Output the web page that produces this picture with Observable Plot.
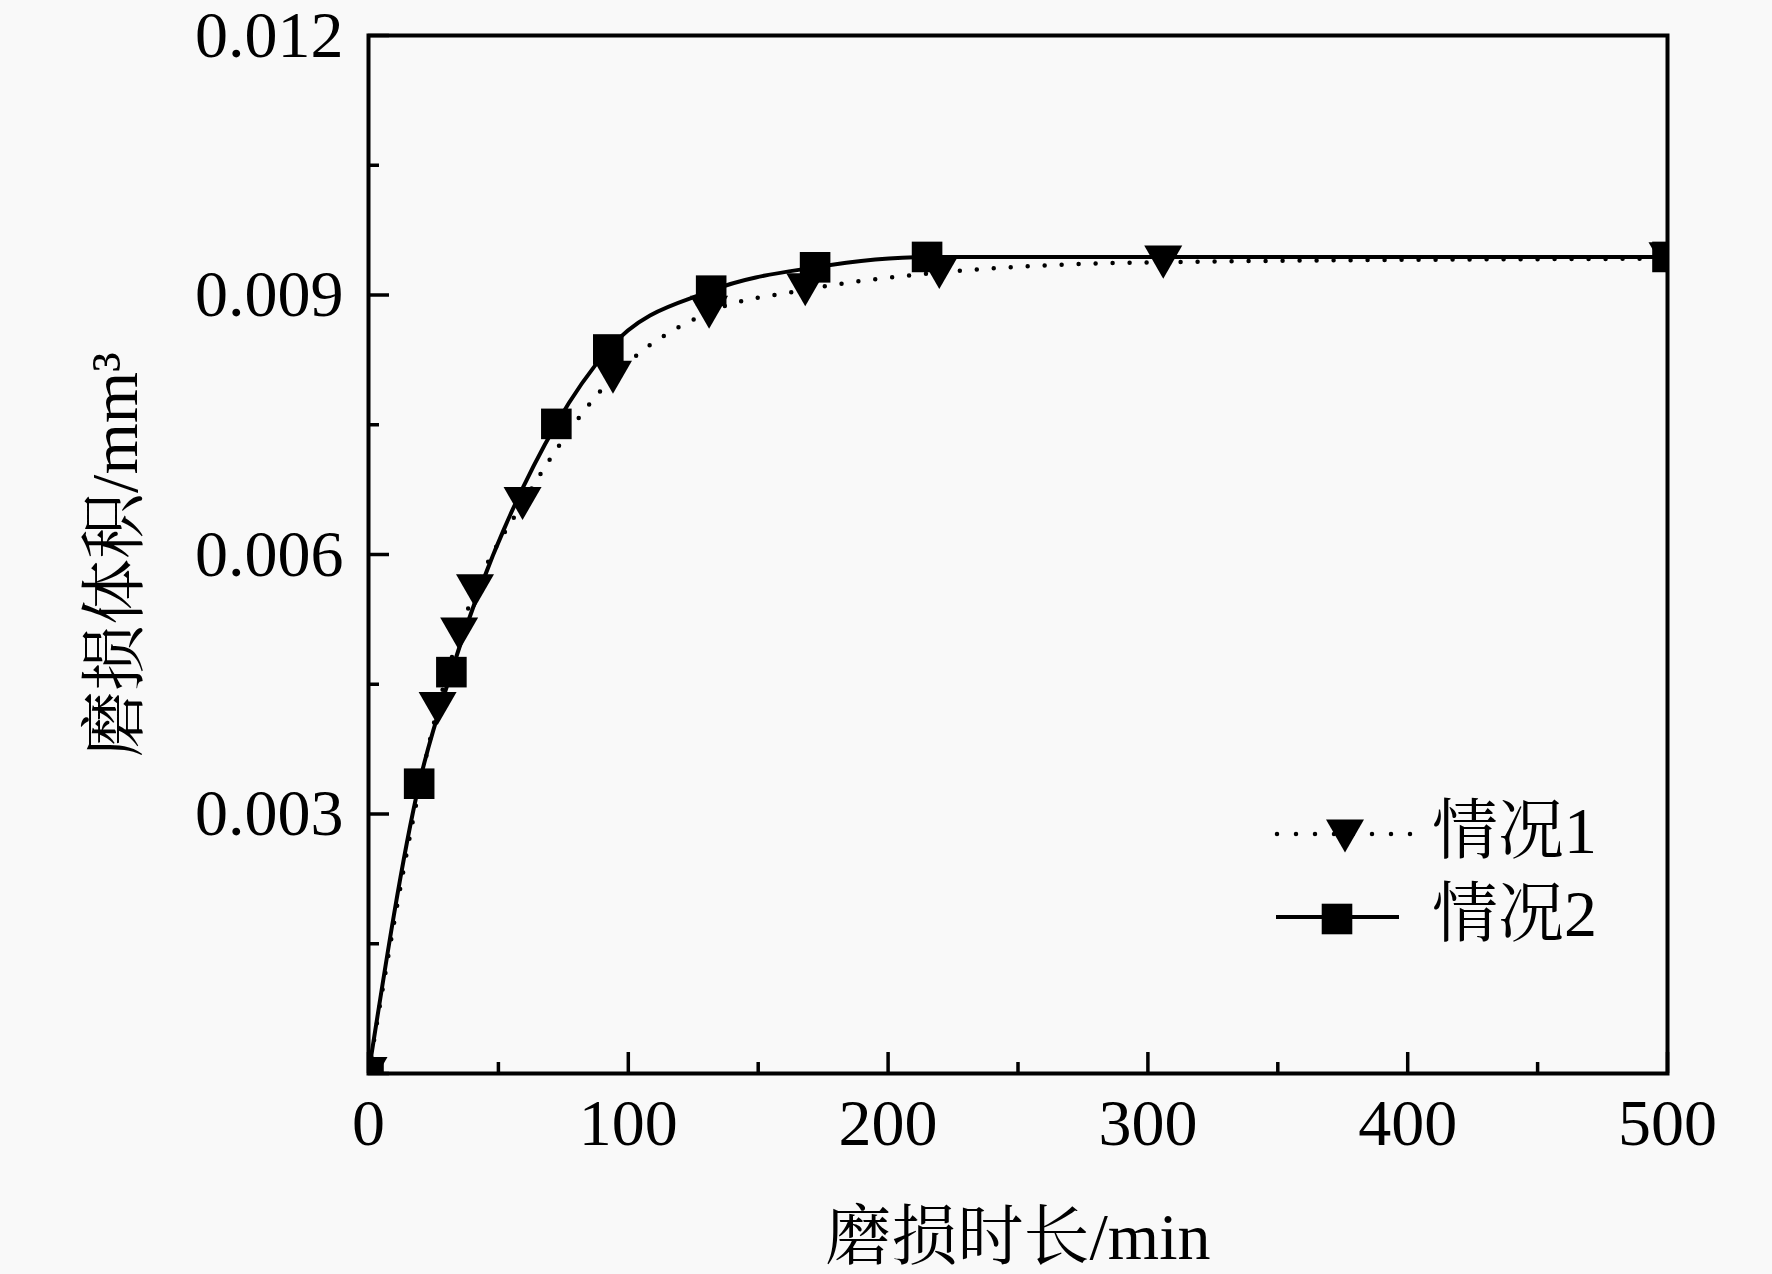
<!DOCTYPE html>
<html>
<head>
<meta charset="utf-8">
<script src="https://cdn.jsdelivr.net/npm/d3@7"></script>
<script src="https://cdn.jsdelivr.net/npm/@observablehq/plot@0.6"></script>
<style>
  html, body { margin: 0; padding: 0; background: #f9f9f9; }
  #chart { width: 1772px; height: 1274px; position: relative; }
</style>
</head>
<body>
<div id="chart"></div>
<script>
// ---- data ----
const case1X = [0, 26.6, 34.9, 41.0, 59.3, 94.1, 131.1, 168.1, 219.7, 305.9, 500];
const case1Y = [0, 0.00422, 0.00508, 0.00558, 0.00659, 0.00805, 0.00880, 0.00906, 0.00926, 0.00938, 0.00942];
const case2X = [0, 19.5, 31.9, 72.3, 92.3, 131.9, 171.9, 215, 500];
const case2Y = [0, 0.00335, 0.00464, 0.00751, 0.00837, 0.00905, 0.00932, 0.00944, 0.00944];
const seriesNames = ["情况1", "情况2"];
const xMajorTicks = [0, 100, 200, 300, 400, 500];
const xMinorTicks = [50, 150, 250, 350, 450];
const yMajorTicks = [0, 0.003, 0.006, 0.009, 0.012];
const yLabelTicks = [0.003, 0.006, 0.009, 0.012];
const yMinorTicks = [0.0015, 0.0045, 0.0075, 0.0105];
const xTitle = "磨损时长/min";
const yTitle = "磨损体积/mm³";

const case1 = case1X.map((x, i) => ({x, y: case1Y[i]}));
const case2 = case2X.map((x, i) => ({x, y: case2Y[i]}));

const FONT = "'Liberation Serif', 'Times New Roman', 'Noto Serif CJK SC', 'Noto Sans CJK SC', serif";

const triDown = {
  draw(ctx, size) {
    const r = Math.sqrt(size / Math.PI);
    const h = r * 0.87;
    ctx.moveTo(-r, -h); ctx.lineTo(r, -h); ctx.lineTo(0, h); ctx.closePath();
  }
};
const squareSym = {
  draw(ctx, size) {
    const r = Math.sqrt(size / Math.PI);
    ctx.moveTo(-r, -r); ctx.lineTo(r, -r); ctx.lineTo(r, r); ctx.lineTo(-r, r); ctx.closePath();
  }
};

const DOT_STYLE = {strokeWidth: 4.5, strokeDasharray: "0 17", strokeLinecap: "round"};
const SOLID_WIDTH = 4;

const tickStyle = {strokeWidth: 3.5, tickFormat: () => "", label: null};

const chart = Plot.plot({
  width: 1772,
  height: 1274,
  marginLeft: 368,
  marginRight: 105,
  marginTop: 35,
  marginBottom: 201,
  style: {fontFamily: FONT, fontSize: "66px", color: "black", background: "transparent", overflow: "visible"},
  x: {domain: [0, 500]},
  y: {domain: [0, 0.012]},
  marks: [
    Plot.line(case1, {x: "x", y: "y", curve: "monotone-x", stroke: "black", ...DOT_STYLE, clip: true}),
    Plot.line(case2, {x: "x", y: "y", curve: "monotone-x", stroke: "black", strokeWidth: SOLID_WIDTH, clip: true}),
    Plot.dot(case1, {x: "x", y: "y", symbol: triDown, r: 19, fill: "black", stroke: "none", clip: true}),
    Plot.dot(case2, {x: "x", y: "y", symbol: squareSym, r: 15.3, fill: "black", stroke: "none", clip: true}),
    Plot.frame({stroke: "black", strokeWidth: 4}),
    Plot.axisY(yMajorTicks, {...tickStyle, tickSize: -21}),
    Plot.axisY(yMinorTicks, {...tickStyle, tickSize: -11}),
    Plot.axisY(yLabelTicks, {tickSize: 0, tickPadding: 25, tickFormat: d3.format(".3f"), label: null}),
    Plot.axisX(xMajorTicks, {...tickStyle, tickSize: -21}),
    Plot.axisX(xMinorTicks, {...tickStyle, tickSize: -11}),
    Plot.axisX(xMajorTicks, {tickSize: 0, tickPadding: 25, tickFormat: d3.format("d"), label: null}),
    Plot.text([xTitle], {text: d => d, frameAnchor: "bottom", dy: 185, textAnchor: "middle", lineAnchor: "bottom", fontSize: 66}),
    Plot.text([yTitle], {text: d => d, frameAnchor: "left", dx: -232, rotate: -90, textAnchor: "middle", lineAnchor: "bottom", fontSize: 66})
  ]
});

document.getElementById("chart").appendChild(chart);

// ---- legend (inside the frame, lower right) ----
const svg = d3.select(chart);
const lg = svg.append("g").attr("class", "legend");
const rows = [
  {name: seriesNames[0], y: 834, x1: 1277, x2: 1413, mx: 1345, dotted: true, sym: triDown, r: 19},
  {name: seriesNames[1], y: 917, x1: 1276, x2: 1399, mx: 1337, dotted: false, sym: squareSym, r: 15.3}
];
rows.forEach(row => {
  const ln = lg.append("line")
    .attr("x1", row.x1).attr("x2", row.x2).attr("y1", row.y).attr("y2", row.y)
    .attr("stroke", "black");
  if (row.dotted) {
    ln.attr("stroke-width", DOT_STYLE.strokeWidth)
      .attr("stroke-dasharray", "0 19")
      .attr("stroke-linecap", "round");
  } else {
    ln.attr("stroke-width", SOLID_WIDTH);
  }
  lg.append("path")
    .attr("d", d3.symbol(row.sym, Math.PI * row.r * row.r)())
    .attr("transform", `translate(${row.mx},${row.y + 2})`)
    .attr("fill", "black");
  lg.append("text")
    .attr("x", 1432).attr("y", row.y + 19)
    .attr("text-anchor", "start")
    .attr("font-family", FONT).attr("font-size", 66).attr("fill", "black")
    .text(row.name);
});
</script>
</body>
</html>
